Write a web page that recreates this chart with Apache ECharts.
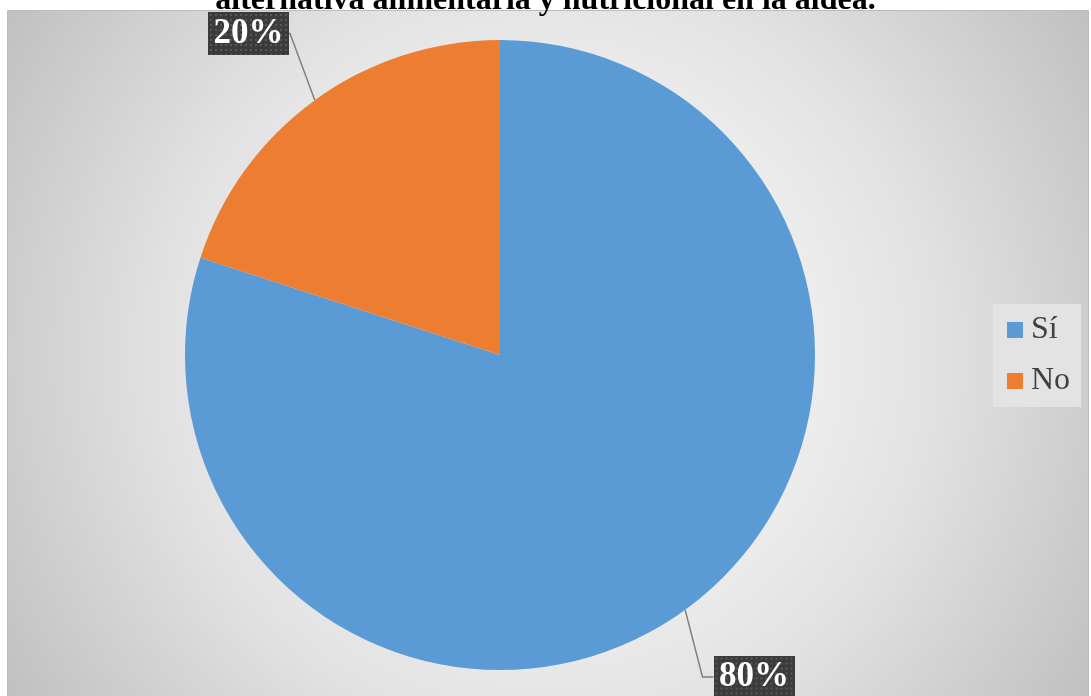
<!DOCTYPE html>
<html>
<head>
<meta charset="utf-8">
<title>Alternativa alimentaria y nutricional</title>
<script src="https://cdn.jsdelivr.net/npm/echarts@6/dist/echarts.min.js"></script>
<style>
  html, body { margin: 0; padding: 0; background: #ffffff; }
  #chart { width: 1091px; height: 696px; }
</style>
</head>
<body>
<div id="chart"></div>
<script>
// Survey answers and their shares (percent)
const categories = ['Sí', 'No'];
const values = [80, 20];
const sliceColors = ['#5B9BD5', '#ED7D31'];
const titleText = 'alternativa alimentaria y nutricional en la aldea.';

const serif = "'Liberation Serif', 'Times New Roman', 'DejaVu Serif', serif";

// Dark dotted tile used behind the percentage labels
function dottedTile(w, h) {
  const c = document.createElement('canvas');
  c.width = w; c.height = h;
  const g = c.getContext('2d');
  g.fillStyle = '#3b3b3b';
  g.fillRect(0, 0, w, h);
  g.fillStyle = '#575757';
  for (let y = 2; y < h; y += 5) {
    for (let x = 2; x < w; x += 5) {
      g.fillRect(x, y, 2, 2);
    }
  }
  return c.toDataURL();
}
const tile = dottedTile(81, 43);

// Label box centres and leader stubs for each slice
const labelSpots = [
  { x: 754, y: 677, stub: 11 },
  { x: 248.5, y: 33.5, stub: 1 }
];

const chart = echarts.init(document.getElementById('chart'), null, { renderer: 'canvas' });

chart.setOption({
  animation: false,
  backgroundColor: '#ffffff',
  title: {
    text: titleText,
    left: 'center',
    top: -15,
    padding: 0,
    textStyle: {
      fontFamily: serif,
      fontWeight: 'bold',
      fontSize: 32,
      color: '#000000'
    }
  },
  graphic: [{
    type: 'rect',
    z: -10,
    silent: true,
    shape: { x: 7.5, y: 10.5, width: 1081, height: 700 },
    style: {
      fill: new echarts.graphic.RadialGradient(548, 353, 640, [
        { offset: 0, color: '#fafafa' },
        { offset: 0.35, color: '#f0f0f0' },
        { offset: 0.6, color: '#e2e2e2' },
        { offset: 1, color: '#c0c0c0' }
      ], true),
      stroke: '#bcbcbc',
      lineWidth: 1
    }
  }],
  legend: {
    orient: 'vertical',
    left: 993,
    top: 304,
    padding: [10, 11, 10, 14],
    backgroundColor: '#e3e3e3',
    icon: 'rect',
    itemWidth: 16,
    itemHeight: 16,
    itemGap: 19,
    itemStyle: { borderWidth: 0 },
    textStyle: {
      fontFamily: serif,
      fontSize: 32,
      color: '#404040',
      padding: [0, 0, 0, 3]
    },
    data: categories
  },
  series: [{
    type: 'pie',
    center: [500, 355],
    radius: 315,
    startAngle: 90,
    clockwise: true,
    avoidLabelOverlap: false,
    color: sliceColors,
    itemStyle: { borderWidth: 0 },
    label: {
      show: true,
      formatter: '{d}%',
      fontFamily: serif,
      fontWeight: 'bold',
      fontSize: 35,
      lineHeight: 33,
      color: '#ffffff',
      width: 63,
      height: 33,
      overflow: 'none',
      align: 'center',
      padding: [6, 9, 4, 9],
      backgroundColor: { image: tile },
      shadowColor: 'rgba(0,0,0,0.45)',
      shadowBlur: 5,
      shadowOffsetX: 2,
      shadowOffsetY: 2
    },
    labelLine: {
      show: true,
      length: 20,
      length2: 10,
      lineStyle: { color: '#7f7f7f', width: 1.5 }
    },
    labelLayout: function (p) {
      const s = labelSpots[p.dataIndex];
      return { x: s.x, y: s.y, align: 'center', verticalAlign: 'middle' };
    },
    emphasis: { disabled: true },
    data: categories.map((name, i) => ({
      name: name,
      value: values[i],
      labelLine: { length2: labelSpots[i].stub }
    }))
  }]
});
</script>
</body>
</html>
